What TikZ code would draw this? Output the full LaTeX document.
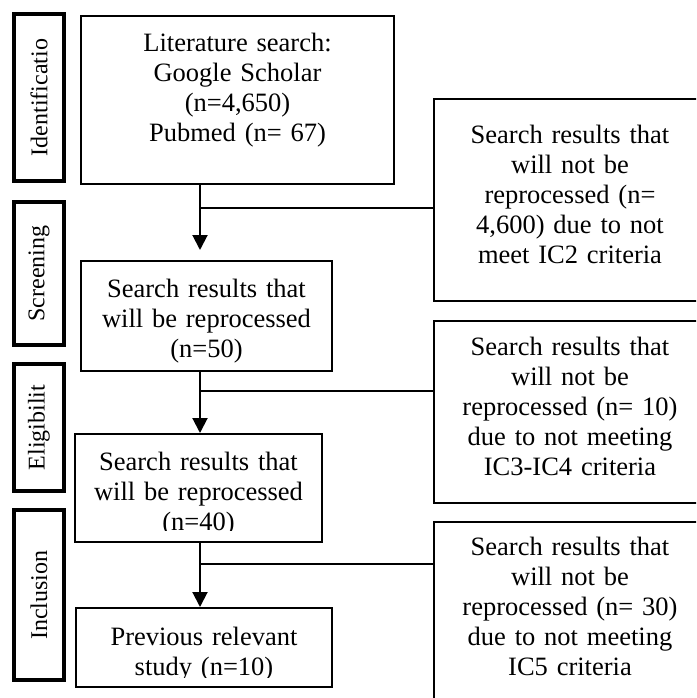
\documentclass[tikz,border=0pt]{standalone}
\usepackage{fontspec}
\setmainfont{Liberation Serif}
\usetikzlibrary{arrows.meta}

\tikzset{
  stagebox/.style={draw, line width=4pt, rotate=90, inner sep=0pt, minimum height=50pt,
    font=\fontsize{24}{28}\selectfont},
  flowbox/.style={draw, line width=2pt, inner sep=0pt, align=center,
    font=\fontsize{26.5}{30}\selectfont},
  arrow/.style={line width=2pt, -{Triangle[length=15pt,width=15pt]}},
  link/.style={line width=2pt},
}

\begin{document}
\begin{tikzpicture}[x=1pt,y=-1pt]
        \clip (0,0) rectangle (696,698);
        % stages
        \node[stagebox, minimum width=167pt] (stId) at (39,97.5) {Identificatio};
        \node[stagebox, minimum width=143pt] (stScr) at (39,273.5) {Screening};
        \node[stagebox, minimum width=127pt] (stEli) at (39,427.5) {Eligibilit};
        \node[stagebox, minimum width=170pt] (stInc) at (39,595) {Inclusion};
        % main flow
        \node[flowbox, text width=313pt, text height=36pt, text depth=132pt] (search) at (237.5,100)
        {Literature search:\\Google Scholar\\(n=4,650)\\Pubmed (n= 67)};
        \node[flowbox, text width=251pt, text height=36pt, text depth=74pt] (kept1) at (206.5,316)
        {Search results that\\will be reprocessed\\(n=50)};
        \node[flowbox, text width=247pt, text height=36pt, text depth=72pt] (kept2) at (198.5,488)
        {Search results that\\will be reprocessed\\(n=40)};
        \node[flowbox, text width=256pt, text height=37pt, text depth=42pt] (final) at (204,647.5)
        {Previous relevant\\study (n=10)};
        \fill[white] ([shift={(2pt,2pt)}]kept2.south west) rectangle ([shift={(-2pt,12pt)}]kept2.south east);
        \fill[white] ([shift={(2pt,2pt)}]final.south west) rectangle ([shift={(-2pt,10pt)}]final.south east);
        % excluded
        \node[flowbox, text width=272pt, text height=44pt, text depth=158pt] (drop1) at (570,200)
        {Search results that\\will not be\\reprocessed (n=\\4,600) due to not\\meet IC2 criteria};
        \node[flowbox, text width=272pt, text height=34pt, text depth=148pt] (drop2) at (570,412)
        {Search results that\\will not be\\reprocessed (n= 10)\\due to not meeting\\IC3-IC4 criteria};
        \node[flowbox, text width=272pt, text height=33pt, text depth=151pt] (drop3) at (570,614)
        {Search results that\\will not be\\reprocessed (n= 30)\\due to not meeting\\IC5 criteria};
        % connectors
        \coordinate (spine) at (200,0);
        \coordinate (fork1) at (200,208);
        \coordinate (fork2) at (200,391);
        \coordinate (fork3) at (200,564);
        \draw[arrow, shorten >=10pt] (search.south -| spine) -- (kept1.north -| spine);
        \draw[arrow] (kept1.south -| spine) -- (kept2.north -| spine);
        \draw[arrow] (kept2.south -| spine) -- (final.north -| spine);
        \draw[link] (fork1) -- (fork1 -| drop1.west);
        \draw[link] (fork2) -- (fork2 -| drop2.west);
        \draw[link] (fork3) -- (fork3 -| drop3.west);
\end{tikzpicture}
\end{document}
